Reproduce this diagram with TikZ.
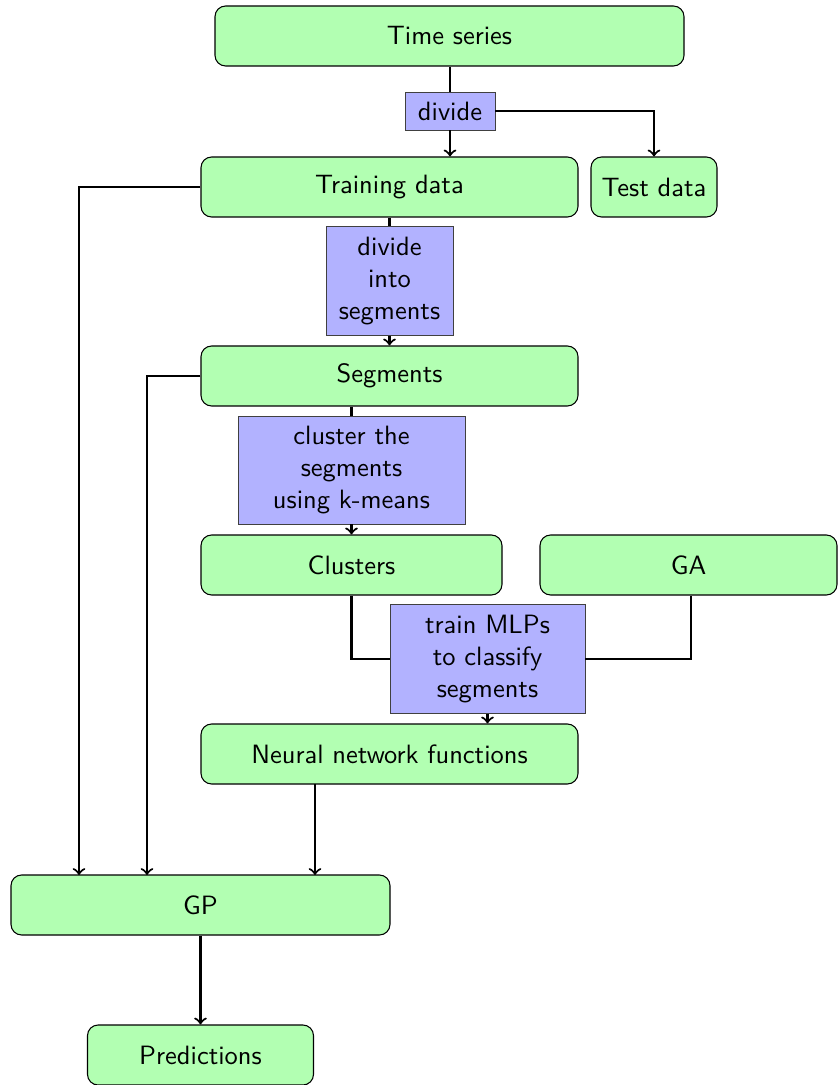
\documentclass[tikz,border=0pt]{standalone}
\usetikzlibrary{positioning}
\newcommand\pxu{0.3774pt}
\tikzset{
  stage/.style={draw, line width=0.4pt, rounded corners=4pt, fill=green!30, font=\sffamily,
    minimum height=60*\pxu, inner sep=2pt},
  action/.style={draw=black!75, line width=0.35pt, fill=blue!30, font=\sffamily,
    align=center, inner sep=2pt},
  link/.style={thick},
  flow/.style={thick, ->},
}
\begin{document}
\begin{tikzpicture}[x=\pxu, y=-\pxu]
\useasboundingbox (0,0) rectangle (837,1085);

% data stages
\node[stage, minimum width=469*\pxu] (ts)    at (449.5,36)  {Time series};
\node[stage, minimum width=377*\pxu] (train) at (389.5,187) {Training data};
\node[stage, minimum width=126*\pxu] (test)  at (654,187)   {Test data};
\node[stage, minimum width=377*\pxu] (seg)   at (389.5,376) {Segments};
\node[stage, minimum width=301*\pxu] (clu)   at (351.5,565) {Clusters};
\node[stage, minimum width=297*\pxu] (ga)    at (688.5,565) {GA};
\node[stage, minimum width=377*\pxu] (nn)    at (389.5,754) {Neural network functions};
\node[stage, minimum width=379*\pxu] (gp)    at (200.5,905) {GP};
\node[stage, minimum width=226*\pxu] (pred)  at (200.5,1055) {Predictions};

% operations
\node[action, minimum width=90*\pxu, minimum height=38*\pxu] (div) at (450,111) {divide};
\node[action, minimum width=127*\pxu, minimum height=109*\pxu] (dseg) at (389.5,281)
  {divide\\into\\segments};
\node[action, minimum width=227*\pxu, minimum height=108*\pxu] (kmeans) at (351.5,470)
  {cluster the\\segments\\using k-means};
\node[action, minimum width=195*\pxu, minimum height=109*\pxu] (mlp) at (487.5,659)
  {train MLPs\\to classify\\segments};

% entry points on the GP box
\coordinate (gpA) at (79,875);
\coordinate (gpB) at (147,875);
\coordinate (gpC) at (315,875);
\coordinate (nnC) at (315,784);

% connectors
\draw[link] (ts.south -| div.north) -- (div.north);
\draw[flow] (div.south) -- (div.south |- train.north);
\draw[flow] (div.east) -| (test.north);

\draw[link] (train.south -| dseg.north) -- (dseg.north);
\draw[flow] (dseg.south) -- (dseg.south |- seg.north);
\draw[flow] (train.west) -| (gpA);

\draw[link] (seg.south -| kmeans.north) -- (kmeans.north);
\draw[flow] (kmeans.south) -- (kmeans.south |- clu.north);
\draw[flow] (seg.west) -| (gpB);

\draw[link] (clu.south) |- (mlp.west);
\draw[link] (ga.south -| 691,0) |- (mlp.east);
\draw[flow] (mlp.south) -- (mlp.south |- nn.north);

\draw[flow] (nnC) -- (gpC);
\draw[flow] (gp.south) -- (pred.north);
\end{tikzpicture}
\end{document}
